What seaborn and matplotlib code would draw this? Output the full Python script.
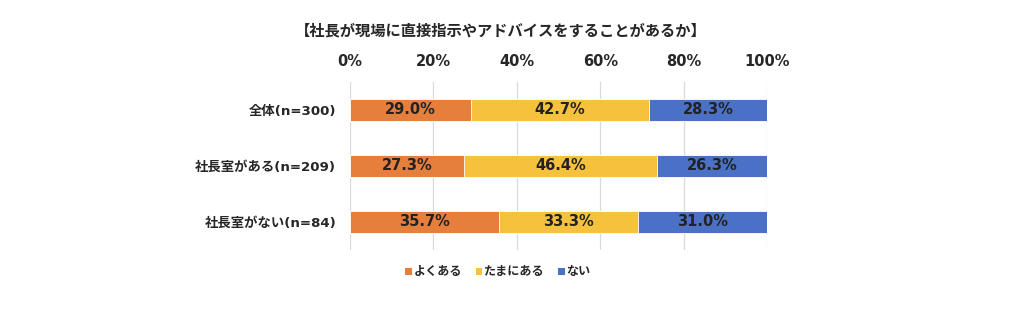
import matplotlib
matplotlib.use("Agg")
import matplotlib.pyplot as plt
import seaborn as sns
import pandas as pd
import numpy as np
from matplotlib.patches import Patch

categories = ["全体(n=300)", "社長室がある(n=209)", "社長室がない(n=84)"]
series_names = ["よくある", "たまにある", "ない"]
often = [29.0, 27.3, 35.7]
sometimes = [42.7, 46.4, 33.3]
never = [28.3, 26.3, 31.0]
x_ticks = [0, 20, 40, 60, 80, 100]
title = "【社長が現場に直接指示やアドバイスをすることがあるか】"

colors = ["#E67E3C", "#F6C23E", "#4A71C6"]
label_color = "#222222"

sns.set_theme(style="white")
fam = ["DejaVu Sans", "Noto Sans CJK JP"]
plt.rcParams["font.family"] = fam
plt.rcParams["font.weight"] = "bold"

fig = plt.figure(figsize=(10.2, 3.33), dpi=100)
ax = fig.add_axes([350 / 1020, 1 - 250 / 333, 417 / 1020, 168 / 333])

values = np.array([often, sometimes, never])
cum = np.cumsum(values, axis=0)
df = pd.DataFrame({"cat": categories})
for i in range(3):
    df[f"c{i}"] = cum[i]

# stacked bars: draw the longest cumulative total first
for i in reversed(range(3)):
    sns.barplot(data=df, y="cat", x=f"c{i}", color=colors[i], orient="h",
                width=0.41, edgecolor="white", linewidth=0.6, ax=ax,
                saturation=1, zorder=2)

for j in range(len(categories)):
    start = 0
    for i in range(3):
        v = values[i][j]
        ax.text(start + v / 2, j, f"{v:.1f}%", ha="center", va="center",
                fontsize=10.5, fontweight="bold", color=label_color, zorder=3)
        start += v

ax.set_xlim(0, 100)
ax.set_xticks(x_ticks)
ax.set_xticklabels([f"{t}%" for t in x_ticks], fontsize=10.5, fontweight="bold", color="#262626")
ax.xaxis.tick_top()
ax.tick_params(axis="x", length=0, pad=9)
ax.tick_params(axis="y", length=0, pad=10)
for lab in ax.get_yticklabels():
    lab.set_fontsize(9.6)
    lab.set_fontweight("bold")
    lab.set_color("#262626")
ax.set_xlabel("")
ax.set_ylabel("")
ax.grid(axis="x", color="#d9d9d9", linewidth=0.9, zorder=0)
ax.set_axisbelow(True)
for s in ax.spines.values():
    s.set_visible(False)

fig.text(501 / 1020, 1 - 31 / 333, title, ha="center", va="center",
         fontsize=11, fontweight="bold", color="#262626")

handles = [Patch(facecolor=c, edgecolor="none") for c in colors]
fig.legend(handles, series_names, loc="center", bbox_to_anchor=(498 / 1020, 1 - 272 / 333),
           ncol=3, frameon=False, handlelength=0.55, handleheight=0.55,
           handletextpad=0.15, columnspacing=1.1, prop={"size": 8.7, "weight": "bold"})

fig.savefig("out.png", dpi=100, facecolor="white")
